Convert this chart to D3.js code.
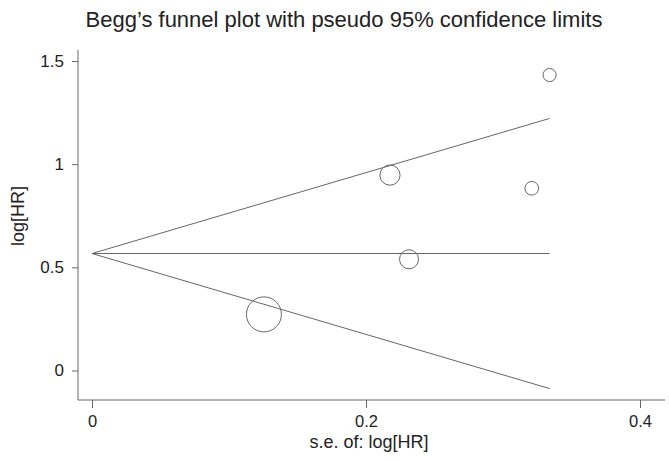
<!DOCTYPE html>
<html>
<head>
<meta charset="utf-8">
<script src="https://cdn.jsdelivr.net/npm/d3@7"></script>
<style>
  body { margin: 0; background: #fff; }
  text { font-family: "Liberation Sans", Arial, sans-serif; fill: #222; }
</style>
</head>
<body>
<div id="chart"></div>
<script>
// study estimates: standard error and log hazard ratio
const studySE = [0.334, 0.2175, 0.321, 0.2314, 0.1255];
const studyLogHR = [1.432, 0.947, 0.883, 0.539, 0.272];

// pooled estimate and funnel limits
const pooled = 0.567;
const maxSE = 0.334;

const xTicks = [0, 0.2, 0.4];
const yTicks = [0, 0.5, 1, 1.5];

const width = 669, height = 461;
const svg = d3.select('#chart').append('svg')
  .attr('width', width)
  .attr('height', height);

const x = d3.scaleLinear().domain([0, 0.4]).range([92, 640]);
const y = d3.scaleLinear().domain([0, 1.5]).range([370.5, 61]);

const axisLeft = 78, axisBottom = 400;
const lineColor = '#666';

// title
svg.append('text')
  .attr('x', 344).attr('y', 27)
  .attr('text-anchor', 'middle')
  .attr('font-size', 22)
  .text('Begg\u2019s funnel plot with pseudo 95% confidence limits');

// axes lines
svg.append('line')
  .attr('x1', axisLeft).attr('x2', axisLeft)
  .attr('y1', 50).attr('y2', axisBottom)
  .attr('stroke', lineColor);
svg.append('line')
  .attr('x1', axisLeft).attr('x2', 665)
  .attr('y1', axisBottom).attr('y2', axisBottom)
  .attr('stroke', lineColor);

const yAxis = svg.append('g')
  .attr('transform', `translate(${axisLeft},0)`)
  .call(d3.axisLeft(y).tickValues(yTicks).tickSize(6).tickPadding(8).tickFormat(d3.format('')));
const xAxis = svg.append('g')
  .attr('transform', `translate(0,${axisBottom})`)
  .call(d3.axisBottom(x).tickValues(xTicks).tickSize(8).tickPadding(7).tickFormat(d3.format('')));

[yAxis, xAxis].forEach(g => {
  g.select('.domain').remove();
  g.selectAll('.tick line').attr('stroke', lineColor);
  g.selectAll('.tick text').attr('font-size', 17).attr('fill', '#222')
    .attr('font-family', '"Liberation Sans", Arial, sans-serif');
});
xAxis.selectAll('.tick text').attr('font-size', 16.5);

// axis titles
svg.append('text')
  .attr('transform', 'translate(24,216) rotate(-90)')
  .attr('text-anchor', 'middle')
  .attr('font-size', 18)
  .text('log[HR]');
svg.append('text')
  .attr('x', 369).attr('y', 448)
  .attr('text-anchor', 'middle')
  .attr('font-size', 18)
  .text('s.e. of: log[HR]');

// funnel lines
const funnel = [
  [[0, pooled], [maxSE, pooled + 1.96 * maxSE]],
  [[0, pooled], [maxSE, pooled]],
  [[0, pooled], [maxSE, pooled - 1.96 * maxSE]]
];
const line = d3.line().x(d => x(d[0])).y(d => y(d[1]));
svg.append('g').selectAll('path')
  .data(funnel)
  .join('path')
  .attr('d', line)
  .attr('fill', 'none')
  .attr('stroke', lineColor)
  .attr('stroke-width', 1);

// study markers, size by inverse variance weight
const weights = studySE.map(se => 1 / (se * se));
const r = d3.scaleSqrt().domain([0, d3.max(weights)]).range([0, 17.5]);

svg.append('g').selectAll('circle')
  .data(studySE.map((se, i) => ({ se, est: studyLogHR[i], w: weights[i] })))
  .join('circle')
  .attr('cx', d => x(d.se))
  .attr('cy', d => y(d.est))
  .attr('r', d => r(d.w))
  .attr('fill', 'none')
  .attr('stroke', lineColor)
  .attr('stroke-width', 1);
</script>
</body>
</html>
